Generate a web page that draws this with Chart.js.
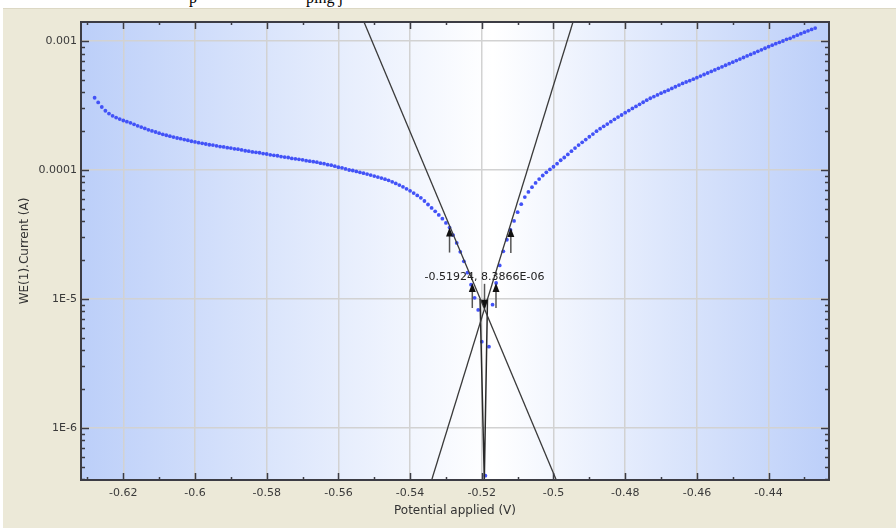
<!DOCTYPE html>
<html>
<head>
<meta charset="utf-8">
<script src="https://cdn.jsdelivr.net/npm/chart.js@4.4.1/dist/chart.umd.min.js"></script>
<style>
  html, body { margin: 0; padding: 0; background: #fff; }
  #wrap { position: relative; width: 896px; height: 528px; overflow: hidden; background: #fff; }
  #panel { position: absolute; left: 3px; top: 8px; right: 0; bottom: 0; background: #ece9d8; border-top: 1px solid #dcd8c4; }
  .doc { position: absolute; top: -11px; font-family: 'Liberation Serif', serif; font-size: 16px; color: #000; white-space: nowrap; }
  #c { position: absolute; left: 0; top: 0; }
</style>
</head>
<body>
<div id="wrap">
  <div id="panel"></div>
  <div class="doc" style="left:189px">p</div>
  <div class="doc" style="left:306px">ping j</div>
  <canvas id="c" width="896" height="528"></canvas>
</div>
<script>
// measured points: potential (V) and current (A)
const potentials = [
	-0.628, -0.627, -0.626, -0.625, -0.624, -0.623, -0.622, -0.621, -0.620, -0.619,
	-0.618, -0.617, -0.616, -0.615, -0.614, -0.613, -0.612, -0.611, -0.610, -0.609,
	-0.608, -0.607, -0.606, -0.605, -0.604, -0.603, -0.602, -0.601, -0.600, -0.599,
	-0.598, -0.597, -0.596, -0.595, -0.594, -0.593, -0.592, -0.591, -0.590, -0.589,
	-0.588, -0.587, -0.586, -0.585, -0.584, -0.583, -0.582, -0.581, -0.580, -0.579,
	-0.578, -0.577, -0.576, -0.575, -0.574, -0.573, -0.572, -0.571, -0.570, -0.569,
	-0.568, -0.567, -0.566, -0.565, -0.564, -0.563, -0.562, -0.561, -0.560, -0.559,
	-0.558, -0.557, -0.556, -0.555, -0.554, -0.553, -0.552, -0.551, -0.550, -0.549,
	-0.548, -0.547, -0.546, -0.545, -0.544, -0.543, -0.542, -0.541, -0.540, -0.539,
	-0.538, -0.537, -0.536, -0.535, -0.534, -0.533, -0.532, -0.531, -0.530, -0.529,
	-0.528, -0.527, -0.526, -0.525, -0.524, -0.523, -0.522, -0.521, -0.520, -0.519,
	-0.518, -0.517, -0.516, -0.515, -0.514, -0.513, -0.512, -0.511, -0.510, -0.509,
	-0.508, -0.507, -0.506, -0.505, -0.504, -0.503, -0.502, -0.501, -0.500, -0.499,
	-0.498, -0.497, -0.496, -0.495, -0.494, -0.493, -0.492, -0.491, -0.490, -0.489,
	-0.488, -0.487, -0.486, -0.485, -0.484, -0.483, -0.482, -0.481, -0.480, -0.479,
	-0.478, -0.477, -0.476, -0.475, -0.474, -0.473, -0.472, -0.471, -0.470, -0.469,
	-0.468, -0.467, -0.466, -0.465, -0.464, -0.463, -0.462, -0.461, -0.460, -0.459,
	-0.458, -0.457, -0.456, -0.455, -0.454, -0.453, -0.452, -0.451, -0.450, -0.449,
	-0.448, -0.447, -0.446, -0.445, -0.444, -0.443, -0.442, -0.441, -0.440, -0.439,
	-0.438, -0.437, -0.436, -0.435, -0.434, -0.433, -0.432, -0.431, -0.430, -0.429,
	-0.428, -0.427
];
const currents = [
	3.63e-4, 3.34e-4, 3.08e-4, 2.88e-4, 2.74e-4, 2.63e-4, 2.55e-4, 2.48e-4, 2.42e-4, 2.37e-4,
	2.32e-4, 2.26e-4, 2.20e-4, 2.15e-4, 2.10e-4, 2.05e-4, 2.01e-4, 1.97e-4, 1.93e-4, 1.89e-4,
	1.86e-4, 1.83e-4, 1.80e-4, 1.77e-4, 1.75e-4, 1.72e-4, 1.70e-4, 1.67e-4, 1.65e-4, 1.63e-4,
	1.61e-4, 1.59e-4, 1.57e-4, 1.56e-4, 1.54e-4, 1.52e-4, 1.51e-4, 1.49e-4, 1.48e-4, 1.46e-4,
	1.45e-4, 1.43e-4, 1.41e-4, 1.40e-4, 1.38e-4, 1.37e-4, 1.36e-4, 1.34e-4, 1.33e-4, 1.31e-4,
	1.30e-4, 1.29e-4, 1.27e-4, 1.26e-4, 1.25e-4, 1.23e-4, 1.22e-4, 1.21e-4, 1.20e-4, 1.18e-4,
	1.17e-4, 1.16e-4, 1.15e-4, 1.13e-4, 1.12e-4, 1.10e-4, 1.09e-4, 1.07e-4, 1.05e-4, 1.04e-4,
	1.02e-4, 1.00e-4, 9.91e-5, 9.75e-5, 9.59e-5, 9.44e-5, 9.29e-5, 9.14e-5, 8.97e-5, 8.81e-5,
	8.65e-5, 8.49e-5, 8.32e-5, 8.09e-5, 7.87e-5, 7.64e-5, 7.40e-5, 7.14e-5, 6.89e-5, 6.62e-5,
	6.35e-5, 6.08e-5, 5.75e-5, 5.40e-5, 5.08e-5, 4.78e-5, 4.48e-5, 4.19e-5, 3.89e-5, 3.58e-5,
	3.13e-5, 2.72e-5, 2.32e-5, 1.96e-5, 1.60e-5, 1.29e-5, 1.02e-5, 8.22e-6, 4.67e-6, 4.27e-7,
	4.27e-6, 9.04e-6, 1.33e-5, 1.82e-5, 2.34e-5, 2.88e-5, 3.43e-5, 4.03e-5, 4.71e-5, 5.43e-5,
	6.17e-5, 6.76e-5, 7.36e-5, 7.94e-5, 8.51e-5, 9.06e-5, 9.59e-5, 1.01e-4, 1.06e-4, 1.12e-4,
	1.19e-4, 1.25e-4, 1.32e-4, 1.40e-4, 1.48e-4, 1.56e-4, 1.64e-4, 1.72e-4, 1.81e-4, 1.90e-4,
	2.00e-4, 2.09e-4, 2.18e-4, 2.27e-4, 2.37e-4, 2.47e-4, 2.57e-4, 2.67e-4, 2.78e-4, 2.89e-4,
	3.00e-4, 3.11e-4, 3.23e-4, 3.35e-4, 3.48e-4, 3.60e-4, 3.71e-4, 3.82e-4, 3.94e-4, 4.05e-4,
	4.16e-4, 4.29e-4, 4.42e-4, 4.55e-4, 4.69e-4, 4.81e-4, 4.93e-4, 5.06e-4, 5.20e-4, 5.35e-4,
	5.50e-4, 5.65e-4, 5.81e-4, 5.97e-4, 6.14e-4, 6.31e-4, 6.49e-4, 6.67e-4, 6.85e-4, 7.05e-4,
	7.24e-4, 7.45e-4, 7.66e-4, 7.87e-4, 8.09e-4, 8.32e-4, 8.55e-4, 8.79e-4, 9.04e-4, 9.29e-4,
	9.53e-4, 9.77e-4, 1.00e-3, 1.03e-3, 1.05e-3, 1.08e-3, 1.11e-3, 1.14e-3, 1.17e-3, 1.20e-3,
	1.23e-3, 1.26e-3
];

// Tafel fit lines (end points at the plot edges)
const cathodicE = [-0.55286, -0.49922];
const cathodicI = [1.404e-3, 3.95e-7];
const anodicE = [-0.49456, -0.53398];
const anodicI = [1.404e-3, 3.95e-7];
// narrow V under the corrosion point
const ecorrE = [-0.52049, -0.5193, -0.51841];
const ecorrI = [1.0e-5, 3.95e-7, 1.0e-5];

// corrosion point and its label
const corrE = -0.51924;
const corrI = 8.3866e-6;
const corrLabel = '-0.51924, 8.3866E-06';

// arrow markers (tip position)
const arrowE = [-0.529, -0.5119, -0.52265, -0.51604, corrE];
const arrowI = [3.58e-5, 3.55e-5, 1.33e-5, 1.33e-5, corrI];
const arrowDir = ['up', 'up', 'up', 'up', 'down'];

// axes
const xMin = -0.6318, xMax = -0.42315;
const yMin = 3.95e-7, yMax = 1.404e-3;
const xTicks = [-0.62, -0.6, -0.58, -0.56, -0.54, -0.52, -0.5, -0.48, -0.46, -0.44];
const xTickLabels = ['-0.62', '-0.6', '-0.58', '-0.56', '-0.54', '-0.52', '-0.5', '-0.48', '-0.46', '-0.44'];
const xMinorTicks = [-0.63, -0.61, -0.59, -0.57, -0.55, -0.53, -0.51, -0.49, -0.47, -0.45, -0.43];
const yTicks = [1e-6, 1e-5, 1e-4, 1e-3];
const yTickLabels = ['1E-6', '1E-5', '0.0001', '0.001'];
const xTitle = 'Potential applied (V)';
const yTitle = 'WE(1).Current (A)';

Chart.defaults.font.family = "'DejaVu Sans', sans-serif";
Chart.defaults.color = '#3a3a3a';

const bgPlugin = {
	id: 'plotBg',
	beforeDraw( chart ) {
		const { ctx, chartArea: a } = chart;
		const g = ctx.createLinearGradient( a.left, 0, a.right, 0 );
		g.addColorStop( 0, '#bccff9' );
		g.addColorStop( 0.55, '#ffffff' );
		g.addColorStop( 1, '#bccff9' );
		ctx.save();
		ctx.fillStyle = g;
		ctx.fillRect( a.left, a.top, a.right - a.left, a.bottom - a.top );
		ctx.restore();
	},
};

const markPlugin = {
	id: 'marks',
	afterDatasetsDraw( chart ) {
		const { ctx } = chart;
		const xs = chart.scales.x;
		const ys = chart.scales.y;
		ctx.save();
		// arrows
		for ( let i = 0; i < arrowE.length; i++ ) {
			const px = xs.getPixelForValue( arrowE[ i ] );
			const py = ys.getPixelForValue( arrowI[ i ] );
			const d = arrowDir[ i ] === 'up' ? 1 : -1;
			ctx.strokeStyle = '#555';
			ctx.lineWidth = 1.5;
			ctx.beginPath();
			ctx.moveTo( px, py + d * 6 );
			ctx.lineTo( px, py + d * 25 );
			ctx.stroke();
			ctx.fillStyle = '#111';
			ctx.beginPath();
			ctx.moveTo( px, py );
			ctx.lineTo( px - 3.5, py + d * 9 );
			ctx.lineTo( px + 3.5, py + d * 9 );
			ctx.closePath();
			ctx.fill();
		}
		// label of the corrosion point
		ctx.fillStyle = '#222';
		ctx.font = "11px 'DejaVu Sans'";
		ctx.textAlign = 'center';
		ctx.textBaseline = 'middle';
		ctx.fillText(
			corrLabel,
			xs.getPixelForValue( corrE ),
			ys.getPixelForValue( corrI ) - 32
		);
		ctx.restore();
	},
	afterDraw( chart ) {
		const { ctx, chartArea: a } = chart;
		const xs = chart.scales.x;
		const ys = chart.scales.y;
		ctx.save();
		ctx.strokeStyle = '#3c3c44';
		ctx.lineWidth = 1.5;
		ctx.beginPath();
		const tick = ( x1, y1, x2, y2 ) => {
			ctx.moveTo( x1, y1 );
			ctx.lineTo( x2, y2 );
		};
		xTicks.forEach( ( v ) => {
			const p = Math.round( xs.getPixelForValue( v ) ) + 0.5;
			tick( p, a.bottom, p, a.bottom - 7 );
			tick( p, a.top, p, a.top + 7 );
		} );
		xMinorTicks.forEach( ( v ) => {
			if ( v < xMin || v > xMax ) return;
			const p = Math.round( xs.getPixelForValue( v ) ) + 0.5;
			tick( p, a.bottom, p, a.bottom - 3 );
			tick( p, a.top, p, a.top + 3 );
		} );
		yTicks.forEach( ( v ) => {
			const p = Math.round( ys.getPixelForValue( v ) ) + 0.5;
			tick( a.left, p, a.left + 8, p );
			tick( a.right, p, a.right - 8, p );
		} );
		for ( let dec = 1e-7; dec < yMax; dec *= 10 ) {
			for ( let m = 2; m <= 9; m++ ) {
				const v = m * dec;
				if ( v < yMin || v > yMax ) continue;
				const p = Math.round( ys.getPixelForValue( v ) ) + 0.5;
				tick( a.left, p, a.left + 4, p );
				tick( a.right, p, a.right - 4, p );
			}
		}
		ctx.stroke();
		ctx.lineWidth = 2;
		ctx.strokeRect( a.left, a.top, a.right - a.left, a.bottom - a.top );
		ctx.restore();
	},
};

const lineStyle = {
	showLine: true,
	pointRadius: 0,
	borderColor: '#3a3a3a',
	borderWidth: 1.3,
	fill: false,
};

new Chart( document.getElementById( 'c' ), {
	type: 'scatter',
	data: {
		datasets: [
			{
				...lineStyle,
				label: 'Cathodic fit',
				data: cathodicE.map( ( e, i ) => ( { x: e, y: cathodicI[ i ] } ) ),
			},
			{
				...lineStyle,
				label: 'Anodic fit',
				data: anodicE.map( ( e, i ) => ( { x: e, y: anodicI[ i ] } ) ),
			},
			{
				...lineStyle,
				label: 'Ecorr',
				borderColor: '#2a2a2a',
				borderWidth: 1.5,
				data: ecorrE.map( ( e, i ) => ( { x: e, y: ecorrI[ i ] } ) ),
			},
			{
				label: 'WE(1).Current',
				data: potentials.map( ( e, i ) => ( { x: e, y: currents[ i ] } ) ),
				pointRadius: 1.9,
				pointBorderWidth: 0,
				pointBackgroundColor: '#4252f7',
				showLine: false,
			},
		],
	},
	options: {
		responsive: false,
		animation: false,
		layout: { padding: { top: 22, right: 67, left: 0, bottom: 0 } },
		plugins: {
			legend: { display: false },
			tooltip: { enabled: false },
		},
		scales: {
			x: {
				type: 'linear',
				min: xMin,
				max: xMax,
				afterBuildTicks: ( s ) => {
					s.ticks = xTicks.map( ( v ) => ( { value: v } ) );
				},
				afterFit: ( s ) => {
					s.height = 48;
				},
				border: { display: false },
				grid: { color: '#d2d2d2', lineWidth: 1.5, drawTicks: false },
				ticks: {
					padding: 7,
					font: { size: 11 },
					color: '#3a3a3a',
					maxRotation: 0,
					autoSkip: false,
					callback: ( v, i ) => xTickLabels[ i ],
				},
				title: {
					display: true,
					text: xTitle,
					font: { size: 12 },
					color: '#333',
					padding: { top: 0, bottom: 10 },
				},
			},
			y: {
				type: 'logarithmic',
				min: yMin,
				max: yMax,
				afterBuildTicks: ( s ) => {
					s.ticks = yTicks.map( ( v ) => ( { value: v } ) );
				},
				afterFit: ( s ) => {
					s.width = 81;
				},
				border: { display: false },
				grid: { color: '#d2d2d2', lineWidth: 1.5, drawTicks: false },
				ticks: {
					padding: 4,
					font: { size: 11 },
					color: '#3a3a3a',
					autoSkip: false,
					callback: ( v, i ) => yTickLabels[ i ],
				},
				title: {
					display: true,
					text: yTitle,
					font: { size: 12 },
					color: '#333',
					padding: { top: 18, bottom: 0 },
				},
			},
		},
	},
	plugins: [ bgPlugin, markPlugin ],
} );
</script>
</body>
</html>
